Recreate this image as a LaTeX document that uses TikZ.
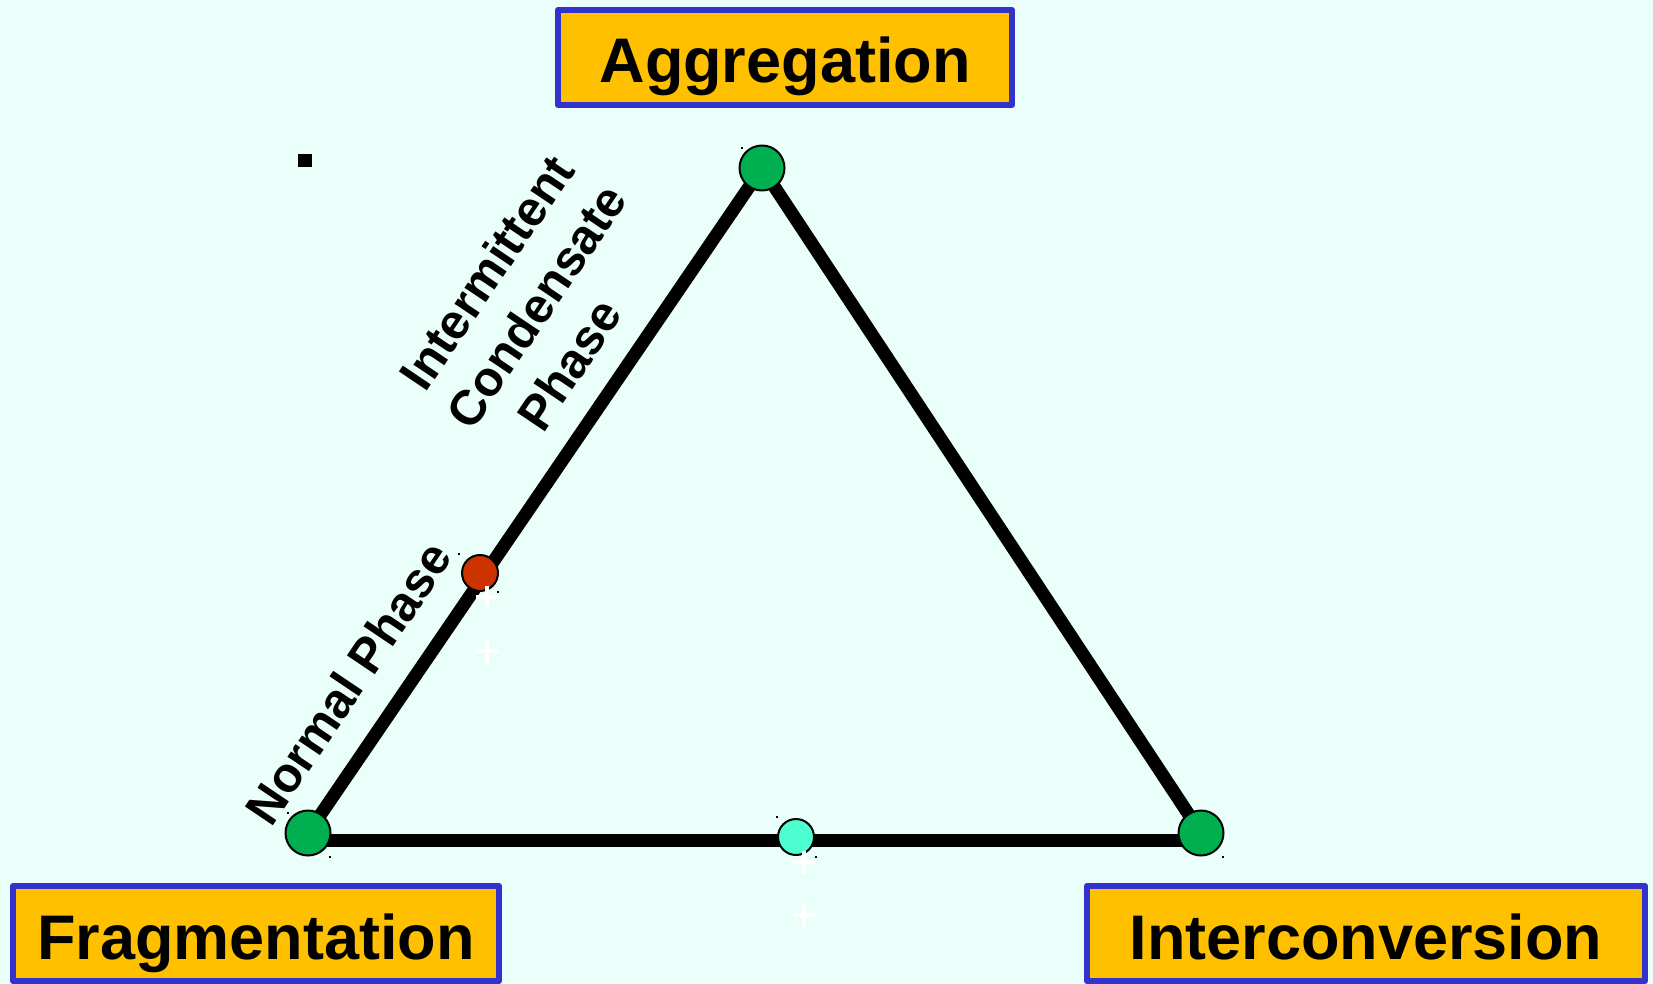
\documentclass[tikz,border=0pt]{standalone}
\usepackage{fontspec}
\setmainfont{Liberation Sans}
\definecolor{bgcyan}{RGB}{234,255,250}
\definecolor{boxgold}{RGB}{255,192,0}
\definecolor{boxblue}{RGB}{51,51,204}
\definecolor{dotgreen}{RGB}{0,176,80}
\definecolor{dotred}{RGB}{204,51,0}
\definecolor{dotcyan}{RGB}{77,255,208}
\begin{document}
\begin{tikzpicture}[x=0.5pt,y=-0.5pt, line join=round,
	title/.style={draw=boxblue, line width=3pt, fill=boxgold, font=\fontsize{31.5}{36}\selectfont\bfseries, text height=25.5pt, text depth=0pt, minimum height=47.5pt, inner sep=0pt},
	vertex/.style={circle, draw=black, line width=1pt, fill=dotgreen, minimum size=22.5pt, inner sep=0pt},
	marker/.style={circle, draw=black, line width=1pt, minimum size=18pt, inner sep=0pt},
	side/.style={line width=6.5pt},
	phase/.style={font=\fontsize{24.5}{30}\selectfont\bfseries, align=center, rotate=56},
	cross/.style={white, line width=2pt}]
	\fill[bgcyan] (0,0) rectangle (1653,984);
	\useasboundingbox (0,0) rectangle (1653,984);
	\node[title, minimum width=227pt] (agg) at (785,57.5) {Aggregation};
	\node[title, minimum width=243pt] (frag) at (256,933.5) {Fragmentation};
	\node[title, minimum width=279pt] (inter) at (1366,933.5) {Interconversion};
	\fill (298,154) rectangle (312,167);
	\coordinate (ptop) at (762,168);
	\coordinate (pleft) at (308,833);
	\coordinate (pright) at (1201,833);
	\draw[side] (ptop)--(pleft);
	\draw[side] (ptop)--(pright);
	\draw[side] ([yshift=-3.5pt]pleft)--([yshift=-3.5pt]pright);
	\node[vertex] (top) at (ptop) {};
	\node[vertex] (left) at (pleft) {};
	\node[vertex] (right) at (pright) {};
	\node[marker, fill=dotred] (normalpt) at (480,573) {};
	\node[marker, fill=dotcyan] (midpt) at (796,837) {};
	\foreach \hx/\hy in {742/148,784/192,288/813,330/857,1181/813,1223/857,459/554,498/592,777/817,816/857}
	{\fill (\hx-1,\hy-1) rectangle (\hx+1,\hy+1);}
	\foreach \px/\py in {487/597,487/651,804/862,804/915}
	{\draw[cross] (\px-11.5,\py)--(\px+11.5,\py) (\px,\py-11.5)--(\px,\py+11.5);}
	\node[phase] (normal) at (348,683) {Normal Phase};
	\node[phase] (icp) at (536,306) {Intermittent\\Condensate\\Phase\hspace*{30pt}};
\end{tikzpicture}
\end{document}
